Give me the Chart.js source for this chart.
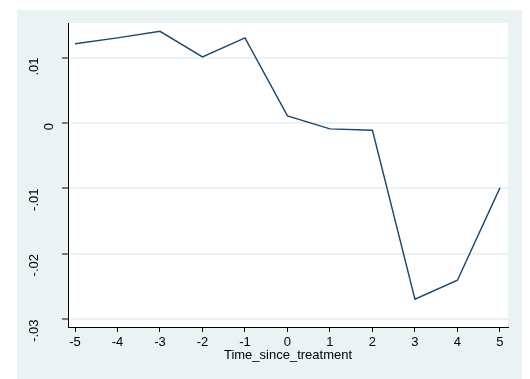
<!DOCTYPE html>
<html>
<head>
<meta charset="utf-8">
<script src="https://cdn.jsdelivr.net/npm/chart.js@4.4.1/dist/chart.umd.min.js"></script>
<style>
  html, body { margin: 0; padding: 0; background: #ffffff; }
  canvas { display: block; }
</style>
</head>
<body>
<canvas id="chart" width="530" height="379"></canvas>
<script>
// event-study coefficients by period relative to treatment
const periods = [-5, -4, -3, -2, -1, 0, 1, 2, 3, 4, 5];
const coefs = [0.0121, 0.0130, 0.0140, 0.0101, 0.0130, 0.0011, -0.0009, -0.0011, -0.0269, -0.0240, -0.0099];

const xTicks = [-5, -4, -3, -2, -1, 0, 1, 2, 3, 4, 5];
const yTicks = [-0.03, -0.02, -0.01, 0, 0.01];
// the short "0" label sits nearer the axis, pushed over by empty leading lines
const yTickLabels = ['-.03', '-.02', '-.01', ['', '', '0'], '.01'];

const bgColor = '#eaf2f3';
const lineColor = '#1a476f';
const font = { family: 'Liberation Sans, Arial, sans-serif', size: 13 };

// outer grey-blue panel plus white plot region
const panels = {
    id: 'panels',
    beforeDraw(chart) {
        const ctx = chart.ctx;
        const a = chart.chartArea;
        ctx.save();
        ctx.fillStyle = bgColor;
        ctx.fillRect(17, 10, 505, 369);
        ctx.fillStyle = '#ffffff';
        ctx.fillRect(a.left, a.top, a.right - a.left, a.bottom - a.top);
        ctx.restore();
    }
};

const ctx = document.getElementById('chart').getContext('2d');
new Chart(ctx, {
    type: 'line',
    data: {
        datasets: [{
            data: periods.map((p, i) => ({ x: p, y: coefs[i] })),
            borderColor: lineColor,
            borderWidth: 1.4,
            pointRadius: 0,
            tension: 0,
            fill: false
        }]
    },
    options: {
        responsive: false,
        animation: false,
        layout: { padding: { top: 23, right: 22, left: 0, bottom: 0 } },
        plugins: { legend: { display: false }, tooltip: { enabled: false } },
        scales: {
            x: {
                type: 'linear',
                min: -5.165,
                max: 5.19,
                afterBuildTicks: s => { s.ticks = xTicks.map(v => ({ value: v })); },
                afterFit: s => { s.height = 52; s.paddingLeft = 0; s.paddingRight = 0; },
                grid: { drawOnChartArea: false, tickColor: '#000', tickLength: 5, tickWidth: 1 },
                border: { color: '#000', width: 1 },
                ticks: {
                    color: '#000',
                    font: font,
                    padding: 3,
                    maxRotation: 0,
                    callback: v => String(v)
                },
                title: {
                    display: true,
                    text: 'Time_since_treatment',
                    color: '#000',
                    font: font,
                    padding: { top: 0, bottom: 16 }
                }
            },
            y: {
                type: 'linear',
                min: -0.03115,
                max: 0.01527,
                afterBuildTicks: s => { s.ticks = yTicks.map(v => ({ value: v })); },
                afterFit: s => { s.width = 68; s.paddingTop = 0; s.paddingBottom = 0; },
                grid: { color: bgColor, lineWidth: 2, tickColor: '#000', tickLength: 6, tickWidth: 1 },
                border: { color: '#000', width: 1 },
                ticks: {
                    color: '#000',
                    font: font,
                    padding: 28,
                    minRotation: 90,
                    maxRotation: 90,
                    callback: v => yTickLabels[yTicks.indexOf(v)]
                }
            }
        }
    },
    plugins: [panels]
});
</script>
</body>
</html>
